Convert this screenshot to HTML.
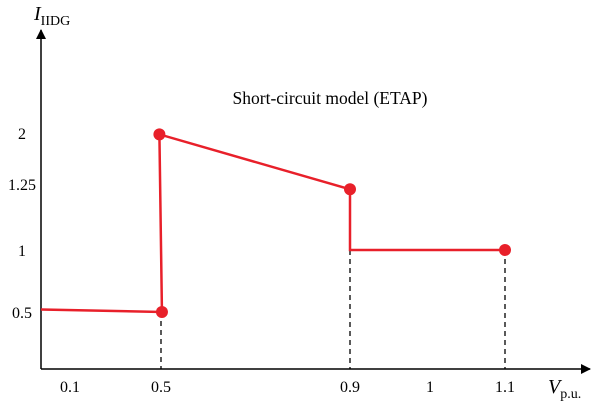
<!DOCTYPE html>
<html><head><meta charset="utf-8"><style>
html,body{margin:0;padding:0;background:#fff;}
svg{display:block;font-family:"Liberation Serif",serif;}
</style></head><body>
<svg id="chart" width="600" height="404" viewBox="0 0 600 404">
<defs><marker id="ah" markerWidth="10" markerHeight="10" refX="9" refY="5" orient="auto" markerUnits="userSpaceOnUse"><path d="M0,0 L10,5 L0,10 Z" fill="#000"/></marker></defs>
<line x1="41" y1="369" x2="41" y2="30" stroke="#000" stroke-width="1.5" marker-end="url(#ah)"/>
<line x1="41" y1="369" x2="590" y2="369" stroke="#000" stroke-width="1.5" marker-end="url(#ah)"/>
<text x="34" y="20" font-size="20" font-style="italic">I<tspan font-size="14" font-style="normal" dy="5">IIDG</tspan></text>
<text x="548" y="393" font-size="20" font-style="italic">V<tspan font-size="14" font-style="normal" dy="5">p.u.</tspan></text>
<text x="330" y="104" font-size="17.5" text-anchor="middle">Short-circuit model (ETAP)</text>
<g id="xt"></g><g id="yt"></g><g id="drops"></g><g id="series"></g>
</svg>
<script>
const xTicks = [0.1, 0.5, 0.9, 1, 1.1];
const xTickLabels = ["0.1", "0.5", "0.9", "1", "1.1"];
const yTicks = [0.5, 1, 1.25, 2];
const yTickLabels = ["0.5", "1", "1.25", "2"];
const seriesX = [0, 0.502, 0.493, 0.9, 0.9, 1.1];
const seriesY = [0.52, 0.5, 1.98, 1.23, 1.0, 1.0];
const markerIdx = [1, 2, 3, 5];
const dropX = [0.5, 0.9, 1.1];
const dropY = [0.5, 1.0, 1.0];

const xd=[0,0.1,0.5,0.9,1,1.1], xr=[41,70,161,350,430,505];
const yd=[0,0.5,1,1.25,2], yr=[369,312,250,184,133];
function pw(v,d,r){for(let i=0;i<d.length-1;i++){if(v<=d[i+1]||i===d.length-2){return r[i]+(v-d[i])/(d[i+1]-d[i])*(r[i+1]-r[i]);}}}
const X=v=>pw(v,xd,xr), Y=v=>pw(v,yd,yr);
const NS="http://www.w3.org/2000/svg";
function mk(t,a,p){const e=document.createElementNS(NS,t);for(const k in a)e.setAttribute(k,a[k]);p.appendChild(e);return e;}
const xt=document.getElementById('xt'),yt=document.getElementById('yt'),dr=document.getElementById('drops'),sg=document.getElementById('series');
xTicks.forEach((v,i)=>{const t=mk('text',{x:X(v),y:392,'font-size':16,'text-anchor':'middle'},xt);t.textContent=xTickLabels[i];

});
yTicks.forEach((v,i)=>{const t=mk('text',{x:22,y:Y(v)+6,'font-size':16,'text-anchor':'middle'},yt);t.textContent=yTickLabels[i];

});
dropX.forEach((v,i)=>{const l=mk('line',{x1:X(v),y1:Y(dropY[i]),x2:X(v),y2:369,stroke:'#000','stroke-width':1.3,'stroke-dasharray':'5,4'},dr);

});
const pts=seriesX.map((v,i)=>X(v)+','+Y(seriesY[i])).join(' ');
const pl=mk('polyline',{points:pts,fill:'none',stroke:'#e8202a','stroke-width':2.5},sg);


markerIdx.forEach(i=>{const c=mk('circle',{cx:X(seriesX[i]),cy:Y(seriesY[i]),r:6,fill:'#e8202a'},sg);

});
</script>
</body></html>
